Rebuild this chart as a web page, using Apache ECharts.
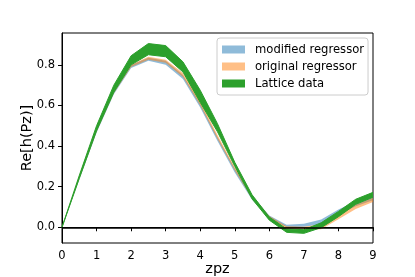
<!DOCTYPE html>
<html>
<head>
<meta charset="utf-8">
<script src="https://cdn.jsdelivr.net/npm/echarts@6/dist/echarts.min.js"></script>
<style>html,body{margin:0;padding:0;background:#fff}#c{width:415px;height:277px}</style>
</head>
<body>
<div id="c"></div>
<script>
var zpz = [0, 0.5, 1, 1.5, 2, 2.5, 3, 3.5, 4, 4.5, 5, 5.5, 6, 6.5, 7, 7.5, 8, 8.5, 9];
var latticeLow  = [0, 0.24, 0.475, 0.665, 0.80, 0.85, 0.84, 0.765, 0.615, 0.47, 0.30, 0.14, 0.035, -0.025, -0.03, -0.002, 0.052, 0.113, 0.148];
var latticeHigh = [0, 0.255, 0.50, 0.70, 0.845, 0.905, 0.895, 0.815, 0.675, 0.51, 0.32, 0.16, 0.05, -0.008, -0.012, 0.022, 0.078, 0.138, 0.172];
var originalLow  = [0, 0.24, 0.47, 0.66, 0.79, 0.825, 0.81, 0.74, 0.60, 0.435, 0.28, 0.14, 0.04, -0.008, -0.012, -0.01, 0.04, 0.09, 0.125];
var originalHigh = [0, 0.255, 0.495, 0.69, 0.80, 0.84, 0.825, 0.76, 0.62, 0.455, 0.295, 0.155, 0.055, 0.005, 0.003, 0.015, 0.062, 0.112, 0.145];
var modifiedLow  = [0, 0.235, 0.465, 0.655, 0.785, 0.82, 0.80, 0.73, 0.59, 0.425, 0.27, 0.135, 0.045, 0.0, 0.003, 0.015, 0.062, 0.104, 0.133];
var modifiedHigh = [0, 0.25, 0.49, 0.685, 0.80, 0.835, 0.82, 0.75, 0.61, 0.445, 0.29, 0.155, 0.058, 0.013, 0.017, 0.038, 0.088, 0.128, 0.152];
var yTicks = [0, 0.2, 0.4, 0.6, 0.8];

function diff(hi, lo) { return hi.map(function (v, i) { return +(v - lo[i]).toFixed(4); }); }
function isInt(i) { return zpz[i] % 1 === 0; }

function band(name, lo, hi, color, edgeW, z) {
  return [
    {
      name: name + '_low', type: 'line', stack: name, stackStrategy: 'all',
      data: lo, symbol: 'none', silent: true, z: z,
      lineStyle: { width: edgeW, color: color, opacity: edgeW ? 1 : 0 },
      itemStyle: { color: color }
    },
    {
      name: name, type: 'line', stack: name, stackStrategy: 'all',
      data: diff(hi, lo), symbol: 'none', silent: true, z: z,
      lineStyle: { width: edgeW, color: color, opacity: edgeW ? 1 : 0 },
      areaStyle: { color: color, opacity: 1 },
      itemStyle: { color: color }
    }
  ];
}

var series = []
  .concat(band('modified regressor', modifiedLow, modifiedHigh, 'rgba(31,119,180,0.5)', 0, 2))
  .concat(band('original regressor', originalLow, originalHigh, 'rgba(255,127,14,0.5)', 0, 3))
  .concat(band('Lattice data', latticeLow, latticeHigh, '#2ca02c', 1, 4));

series[series.length - 1].markLine = {
  silent: true, symbol: 'none', label: { show: false },
  lineStyle: { color: '#000', width: 1.5, type: 'solid' },
  data: [{ yAxis: 0 }], z: 10
};

var chart = echarts.init(document.getElementById('c'), null, { renderer: 'canvas' });
chart.setOption({
  animation: false,
  backgroundColor: '#fff',
  textStyle: { fontFamily: 'DejaVu Sans' },
  grid: { left: 62, right: 42, top: 33, bottom: 34, containLabel: false, outerBoundsMode: 'none',
    show: true, borderColor: '#000', borderWidth: 1, backgroundColor: 'transparent' },
  legend: {
    data: ['modified regressor', 'original regressor', 'Lattice data'],
    orient: 'vertical', left: 217, top: 38,
    icon: 'rect', itemWidth: 23, itemHeight: 8, itemGap: 4,
    padding: [5, 4, 5, 5],
    backgroundColor: 'rgba(255,255,255,0.8)', borderColor: '#ccc', borderWidth: 1, borderRadius: 3,
    textStyle: { fontFamily: 'DejaVu Sans', fontSize: 11.6, color: '#000', padding: [0, 0, 0, 5], lineHeight: 13 }
  },
  xAxis: {
    type: 'category', data: zpz.map(String), boundaryGap: false,
    name: 'zpz', nameLocation: 'middle', nameGap: 19, nameMoveOverlap: false,
    nameTextStyle: { fontFamily: 'DejaVu Sans', fontSize: 14.5, color: '#000' },
    axisLine: { lineStyle: { color: '#000', width: 1 } },
    axisTick: { show: true, length: 4, lineStyle: { color: '#000' }, interval: function (i) { return isInt(i); } },
    axisLabel: { fontFamily: 'DejaVu Sans', fontSize: 11.5, color: '#000', margin: 7,
      interval: function (i) { return isInt(i); } },
    splitLine: { show: false }
  },
  yAxis: {
    type: 'value', min: -0.0775, max: 0.957,
    name: 'Re[h(Pz)]', nameLocation: 'middle', nameGap: 27, nameRotate: 90, nameMoveOverlap: false,
    nameTextStyle: { fontFamily: 'DejaVu Sans', fontSize: 14.5, color: '#000' },
    axisLine: { show: true, lineStyle: { color: '#000', width: 1 } },
    axisTick: { show: true, length: 4, lineStyle: { color: '#000' }, customValues: yTicks },
    axisLabel: { fontFamily: 'DejaVu Sans', fontSize: 11.5, color: '#000', margin: 7,
      customValues: yTicks, formatter: function (v) { return v.toFixed(1); } },
    splitLine: { show: false }
  },
  series: series
});
</script>
</body>
</html>
